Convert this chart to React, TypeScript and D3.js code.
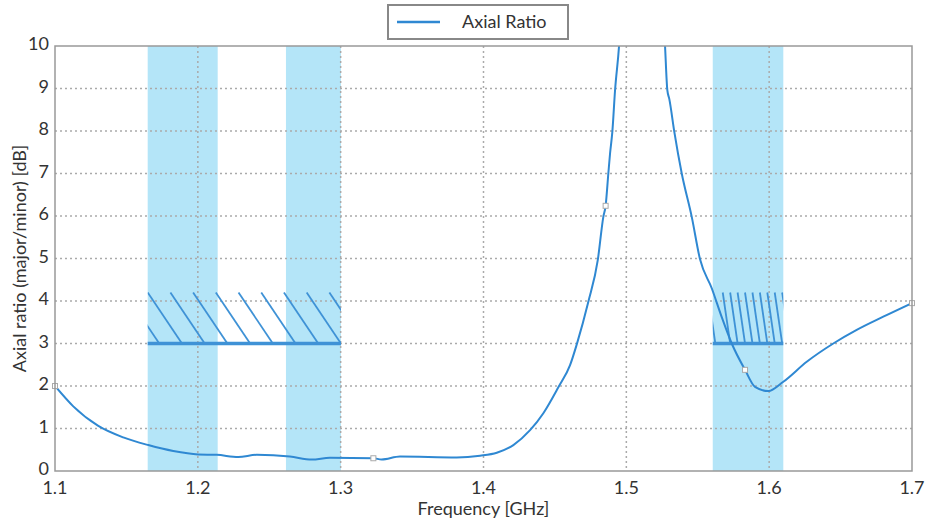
import React from "react";
import * as d3 from "d3";

// ---- data ----
const freqGHz = [
  1.1, 1.1128, 1.1303, 1.1478, 1.1653, 1.1828, 1.2003, 1.2132, 1.2283, 1.2412,
  1.2645, 1.2797, 1.2925, 1.3229, 1.3287, 1.3415, 1.3812, 1.3976, 1.4093, 1.4209,
  1.4326, 1.4419, 1.4524, 1.4606, 1.4653, 1.4734, 1.48, 1.4839, 1.4855, 1.4874,
  1.4886, 1.4902, 1.4921, 1.4949, 1.5, 1.511, 1.522, 1.5271, 1.5287, 1.5301,
  1.5336, 1.5388, 1.5458, 1.5516, 1.5598, 1.5668, 1.5738, 1.5831, 1.5901, 1.5994,
  1.6099, 1.6263, 1.6449, 1.6613, 1.6799, 1.7,
];
const axialRatioDb = [
  2.0, 1.52, 1.06, 0.79, 0.61, 0.47, 0.39, 0.38, 0.33, 0.38,
  0.34, 0.27, 0.31, 0.3, 0.27, 0.34, 0.32, 0.36, 0.43, 0.61,
  0.96, 1.36, 1.97, 2.49, 2.98, 3.98, 4.96, 5.98, 6.24, 7.0,
  7.47, 7.98, 8.96, 10.0, 13.5, 18, 13.5, 10.0, 8.96, 8.75,
  7.98, 7.0, 5.98, 4.98, 4.3, 3.62, 3.0, 2.38, 1.98, 1.88,
  2.1, 2.57, 3.0, 3.32, 3.63, 3.95,
];
const markerFreqs = [1.1, 1.3229, 1.4855, 1.5831, 1.7];

// frequency bands (GHz)
const bandStarts = [1.1649, 1.2617, 1.5605];
const bandEnds = [1.2139, 1.3002, 1.6099];

// requirement masks: AR <= level, hatched up to hatchTop
const maskStarts = [1.1649, 1.5605];
const maskEnds = [1.3002, 1.6099];
const maskLevels = [3, 3];
const maskHatchTops = [4.2, 4.2];
const maskFirstHatch = [1.1649, 1.5675];
const maskHatchSteps = [0.0159, 0.0052];
const maskHatchSlants = [0.024, 0.0052];

const xTicks = [1.1, 1.2, 1.3, 1.4, 1.5, 1.6, 1.7];
const yTicks = [0, 1, 2, 3, 4, 5, 6, 7, 8, 9, 10];

const seriesName = "Axial Ratio";
const xTitle = "Frequency [GHz]";
const yTitle = "Axial ratio (major/minor) [dB]";

// ---- styles ----
const W = 928;
const H = 519;
const LEFT = 55;
const RIGHT = 912;
const TOP = 46;
const BOTTOM = 471;
const FONT = "Lato, 'Open Sans', sans-serif";
const TEXT = "#333";
const LINE = "#2f88d2";
const BAND = "#b4e5f8";
const HATCH = "#3f92d6";

export default function App() {
  const x = d3.scaleLinear().domain([1.1, 1.7]).range([LEFT, RIGHT]);
  const y = d3.scaleLinear().domain([0, 10]).range([BOTTOM, TOP]);

  const points = freqGHz.map((f, i) => [f, axialRatioDb[i]] as [number, number]);
  const line = d3
    .line<[number, number]>()
    .x((d) => x(d[0]))
    .y((d) => y(d[1]))
    .curve(d3.curveMonotoneX);

  const markers = markerFreqs.map((f) => {
    const i = freqGHz.indexOf(f);
    return [f, axialRatioDb[i]] as [number, number];
  });

  const hatchLines: { x1: number; y1: number; x2: number; y2: number; m: number }[] = [];
  maskStarts.forEach((s, m) => {
    const e = maskEnds[m];
    const step = maskHatchSteps[m];
    for (let k = -3; ; k++) {
      const top = maskFirstHatch[m] + k * step;
      if (top > e) break;
      if (k < 0 && top >= s) continue;
      hatchLines.push({
        x1: x(top),
        y1: y(maskHatchTops[m]),
        x2: x(top + maskHatchSlants[m]),
        y2: y(maskLevels[m]),
        m,
      });
    }
  });

  return (
    <svg
      width={W}
      height={H}
      style={{ position: "absolute", left: 0, top: 0, background: "#fff" }}
      fontFamily={FONT}
    >
      <defs>
        <clipPath id="plotClip">
          <rect x={LEFT} y={TOP} width={RIGHT - LEFT} height={BOTTOM - TOP} />
        </clipPath>
        {maskStarts.map((s, m) => (
          <clipPath id={`maskClip${m}`} key={m}>
            <rect
              x={x(s)}
              y={y(maskHatchTops[m]) - 2}
              width={x(maskEnds[m]) - x(s)}
              height={y(maskLevels[m]) - y(maskHatchTops[m]) + 4}
            />
          </clipPath>
        ))}
      </defs>

      {/* bands */}
      {bandStarts.map((s, i) => (
        <rect
          key={i}
          x={x(s)}
          y={TOP}
          width={x(bandEnds[i]) - x(s)}
          height={BOTTOM - TOP}
          fill={BAND}
        />
      ))}

      {/* grid */}
      {yTicks.slice(1, -1).map((t) => (
        <line
          key={"gy" + t}
          x1={LEFT}
          x2={RIGHT}
          y1={y(t)}
          y2={y(t)}
          stroke="#aaa"
          strokeWidth={1.5}
          strokeDasharray="2,3"
        />
      ))}
      {xTicks.slice(1, -1).map((t) => (
        <line
          key={"gx" + t}
          x1={x(t)}
          x2={x(t)}
          y1={TOP}
          y2={BOTTOM}
          stroke="#aaa"
          strokeWidth={1.5}
          strokeDasharray="2,3"
        />
      ))}

      {/* hatch masks */}
      {hatchLines.map((h, i) => (
        <line
          key={"h" + i}
          x1={h.x1}
          y1={h.y1}
          x2={h.x2}
          y2={h.y2}
          stroke={HATCH}
          strokeWidth={1.8}
          clipPath={`url(#maskClip${h.m})`}
        />
      ))}
      {maskStarts.map((s, m) => (
        <line
          key={"ml" + m}
          x1={x(s)}
          x2={x(maskEnds[m])}
          y1={y(maskLevels[m])}
          y2={y(maskLevels[m])}
          stroke={HATCH}
          strokeWidth={3.5}
        />
      ))}

      {/* curve */}
      <path
        d={line(points) || ""}
        fill="none"
        stroke={LINE}
        strokeWidth={2}
        clipPath="url(#plotClip)"
      />
      {markers.map((d, i) => (
        <rect
          key={"mk" + i}
          x={x(d[0]) - 2.5}
          y={y(d[1]) - 2.5}
          width={5}
          height={5}
          fill="#fff"
          stroke="#aaa"
          strokeWidth={1}
        />
      ))}

      {/* frame */}
      <rect
        x={LEFT}
        y={TOP}
        width={RIGHT - LEFT}
        height={BOTTOM - TOP}
        fill="none"
        stroke="#999"
        strokeWidth={1.5}
      />

      {/* tick labels */}
      {yTicks.map((t) => (
        <text
          key={"ty" + t}
          x={LEFT - 6}
          y={y(t) - 2}
          dy="0.35em"
          textAnchor="end"
          fontSize={18}
          fill={TEXT}
        >
          {t}
        </text>
      ))}
      {xTicks.map((t) => (
        <text
          key={"tx" + t}
          x={x(t)}
          y={BOTTOM + 23}
          textAnchor="middle"
          fontSize={18}
          fill={TEXT}
        >
          {t.toFixed(1)}
        </text>
      ))}

      {/* axis titles */}
      <text x={(LEFT + RIGHT) / 2} y={515} textAnchor="middle" fontSize={18} fill={TEXT}>
        {xTitle}
      </text>
      <text
        transform={`translate(26, ${(TOP + BOTTOM) / 2}) rotate(-90)`}
        textAnchor="middle"
        fontSize={18}
        fill={TEXT}
      >
        {yTitle}
      </text>

      {/* legend */}
      <rect x={388} y={5} width={180} height={34} fill="#fff" stroke="#888" strokeWidth={2} />
      <line x1={397} x2={440} y1={22} y2={22} stroke={LINE} strokeWidth={2.5} />
      <text x={462} y={28} fontSize={18} fill={TEXT}>
        {seriesName}
      </text>
    </svg>
  );
}
